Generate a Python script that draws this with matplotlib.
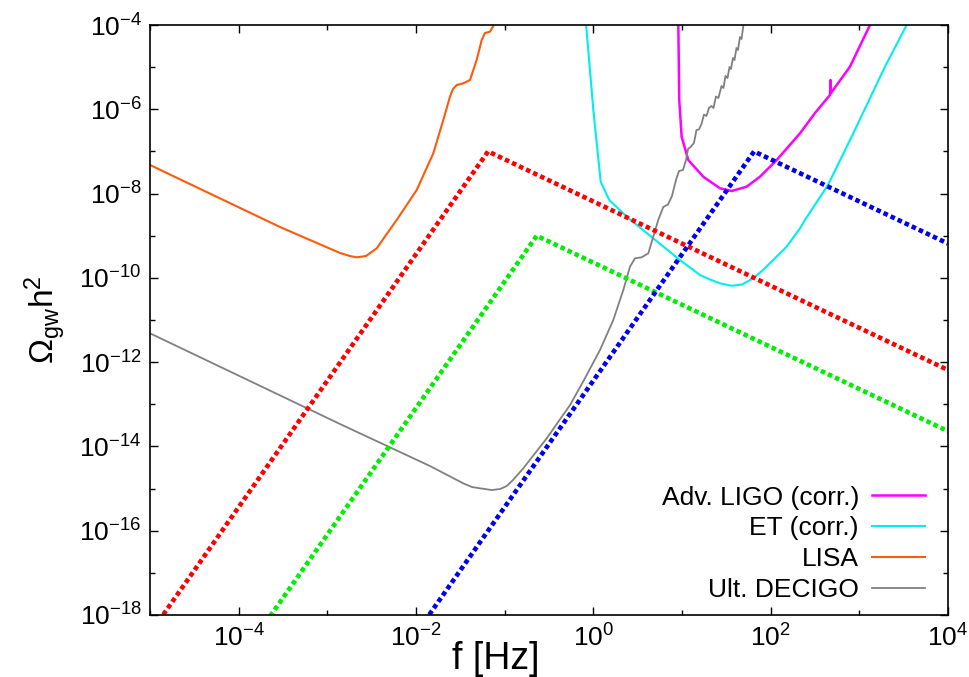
import numpy as np
import matplotlib
matplotlib.use('Agg')
import matplotlib.pyplot as plt
from matplotlib.ticker import FixedLocator, FuncFormatter, NullFormatter

plt.rcParams['font.family'] = ['Liberation Sans', 'DejaVu Sans']
plt.rcParams['mathtext.fontset'] = 'custom'
plt.rcParams['mathtext.rm'] = 'Liberation Sans'
plt.rcParams['mathtext.it'] = 'Liberation Sans'
plt.rcParams['mathtext.bf'] = 'Liberation Sans:bold'

# ---- sensitivity curves (log10 f [Hz], log10 Omega_gw h^2) ----
ligo_logf = [0.958, 0.969, 0.996, 1.071, 1.240, 1.428, 1.560, 1.729, 1.879,
             2.068, 2.331, 2.500, 2.669, 2.675, 2.680, 2.894, 3.120, 3.15]
ligo_logo = [-3.9, -5.78, -6.651, -7.204, -7.600, -7.875, -7.939, -7.837, -7.600,
             -7.204, -6.570, -6.088, -5.661, -5.305, -5.614, -4.990, -4.0, -3.9]

et_logf = [-0.085, 0.0, 0.083, 0.180, 0.376, 0.676, 0.977, 1.203, 1.316, 1.428, 1.560,
           1.676, 1.804, 1.913, 2.029, 2.180, 2.331, 2.387, 2.646, 2.932, 3.289, 3.534, 3.57]
et_logo = [-3.9, -6.017, -7.719, -8.153, -8.549, -9.062, -9.577, -9.933, -10.039, -10.13, -10.187,
           -10.158, -10.011, -9.814, -9.577, -9.261, -8.824, -8.627, -7.797, -6.570, -4.990, -4.0, -3.9]

lisa_logf = [-5.0, -3.534, -2.857, -2.744, -2.669, -2.564, -2.443, -2.338, -2.218, -1.992,
             -1.805, -1.692, -1.617, -1.583, -1.541, -1.467, -1.391, -1.316, -1.259, -1.222,
             -1.166, -1.128, -1.098]
lisa_logo = [-7.322, -8.793, -9.410, -9.482, -9.513, -9.482, -9.299, -8.983, -8.627, -7.915,
             -7.045, -6.254, -5.701, -5.519, -5.424, -5.383, -5.305, -4.831, -4.356, -4.190,
             -4.159, -4.024, -3.88]

decigo_logf = [-5.000, -2.857, -1.842, -1.467, -1.369, -1.278, -1.146, -1.053, -0.977, -0.906,
               -0.790, -0.526, -0.263,
               -0.105, 0.075, 0.225, 0.338, 0.413, 0.470, 0.545, 0.620, 0.676, 0.732,
               0.789, 0.842, 0.887, 0.932, 0.966, 1.011, 1.045, 1.068, 1.102, 1.135,
               1.163, 1.191, 1.220, 1.248, 1.276, 1.304, 1.332, 1.355, 1.383, 1.411,
               1.445, 1.468, 1.490, 1.513, 1.536, 1.552, 1.575, 1.592, 1.614, 1.631,
               1.654, 1.671, 1.693, 1.710]
decigo_logo = [-11.316, -13.468, -14.465, -14.876, -14.963, -14.994, -15.035, -15.011, -14.940, -14.797,
               -14.520, -13.808, -13.018,
               -12.424, -11.712, -11.000, -10.289, -9.736, -9.536, -9.513, -9.418, -9.024, -8.627,
               -8.319, -8.260, -8.058, -7.678, -7.465, -7.441, -7.204, -6.943, -6.883, -6.800,
               -6.492, -6.480, -6.349, -6.124, -6.159, -5.970, -5.922, -5.970, -5.697, -5.732,
               -5.448, -5.495, -5.210, -5.258, -4.997, -5.044, -4.783, -4.831, -4.546, -4.593,
               -4.285, -4.332, -4.0, -3.834]

# ---- signal spectra (broken power laws: start, peak, end) ----
red_f = [1.12e-5, 0.065, 1e4]
red_o = [5.1e-19, 1e-7, 6.5e-13]
green_f = [1.6e-4, 0.23, 1e4]
green_o = [3.3e-19, 1e-9, 2.3e-14]
blue_f = [0.0112, 65.0, 1e4]
blue_o = [5.1e-19, 1e-7, 6.5e-10]

labels = ['Adv. LIGO (corr.)', 'ET (corr.)', 'LISA', 'Ult. DECIGO']

fig = plt.figure(figsize=(9.69, 6.77), dpi=100)
ax = fig.add_axes([150/969, 1-615/677, (948-150)/969, (615-25)/677])

ax.plot(10**np.array(ligo_logf), 10**np.array(ligo_logo), color='#ff00ff', lw=1.8, label=labels[0])
ax.plot(10**np.array(et_logf), 10**np.array(et_logo), color='#00eeee', lw=1.5, label=labels[1])
ax.plot(10**np.array(lisa_logf), 10**np.array(lisa_logo), color='#ff5a0a', lw=1.5, label=labels[2])
ax.plot(10**np.array(decigo_logf), 10**np.array(decigo_logo), color='#808080', lw=1.3, label=labels[3])

ds = (0, (1.0, 0.7))
ax.plot(red_f, red_o, color='#ff0000', lw=3.3, ls=ds)
ax.plot(green_f, green_o, color='#00ee00', lw=3.3, ls=ds)
ax.plot(blue_f, blue_o, color='#0000ee', lw=3.3, ls=ds)

ax.set_xscale('log')
ax.set_yscale('log')
ax.set_xlim(1e-5, 1e4)
ax.set_ylim(1e-18, 1e-4)

xmaj = [10.0**e for e in range(-4, 5, 2)]
xmin = [10.0**e for e in range(-5, 5, 2)]
ymaj = [10.0**e for e in range(-18, -3, 2)]
ymin = [10.0**e for e in range(-17, -4, 2)]
ax.xaxis.set_major_locator(FixedLocator(xmaj))
ax.xaxis.set_minor_locator(FixedLocator(xmin))
ax.yaxis.set_major_locator(FixedLocator(ymaj))
ax.yaxis.set_minor_locator(FixedLocator(ymin))
fmt = FuncFormatter(lambda v, p: r'$10^{%d}$' % int(round(np.log10(v))))
ax.xaxis.set_major_formatter(fmt)
ax.yaxis.set_major_formatter(fmt)
ax.xaxis.set_minor_formatter(NullFormatter())
ax.yaxis.set_minor_formatter(NullFormatter())
ax.tick_params(which='both', direction='in', top=True, right=True, width=1.0, labelsize=19)
ax.tick_params(which='major', length=6)
ax.tick_params(which='minor', length=3.5)
ax.tick_params(axis='x', pad=7)
ax.tick_params(axis='y', pad=6)
for s in ax.spines.values():
    s.set_linewidth(1.2)

ax.set_xlabel('f [Hz]', fontsize=27)
ax.xaxis.set_label_coords((496-150)/798, -0.0441)
ax.set_ylabel(r'$\Omega_{\mathrm{gw}}\mathrm{h}^2$', fontsize=24, labelpad=8)

leg = ax.legend(loc='lower right', bbox_to_anchor=(0.984, 0.004), frameon=False,
                markerfirst=False, fontsize=19, handlelength=2.0, handletextpad=0.49,
                labelspacing=0.26, borderaxespad=0.0)

fig.savefig('out.png', dpi=100)
